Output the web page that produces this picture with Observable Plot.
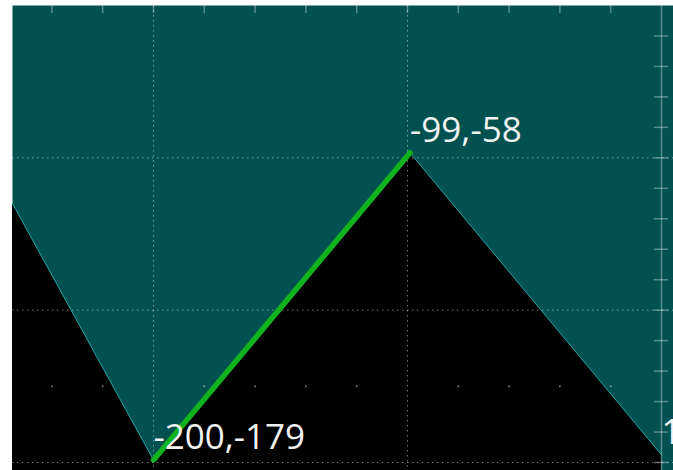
<!DOCTYPE html>
<html><head><meta charset="utf-8">
<script src="https://cdn.jsdelivr.net/npm/d3@7"></script>
<script src="https://cdn.jsdelivr.net/npm/@observablehq/plot@0.6"></script>
<style>body{margin:0;background:#fff}</style>
</head><body><div id="chart"></div>
<script>
// Zigzag pivots (bar, value)
const pivotX = [-300, -200, -99, 0];
const pivotY = [3, -179, -58, -177];
// Highlighted leg
const legX = [-200, -99];
const legY = [-179, -58];
// Pivot labels
const labelX = [-200, -99, 0];
const labelY = [-179, -58, -177];
const labelText = ["-200,-179", "-99,-58", "1,-177"];
// Grid / ticks
const gridX = [-200, -100];
const gridY = [-180, -120, -60];
const minorDotX = [-240, -220, -180, -160, -140, -120, -80, -60, -40, -20];
const minorDotY = [-150];
const topTickX = [-240, -220, -200, -180, -160, -140, -120, -100, -80, -60, -40, -20];
const rightTickY = [-180, -168, -156, -144, -132, -120, -108, -96, -84, -72, -60, -48, -36, -24, -12];

const pivots = pivotX.map((x, i) => ({x, y: pivotY[i]}));
const leg = legX.map((x, i) => ({x, y: legY[i]}));
const labels = labelX.map((x, i) => ({x, y: labelY[i], t: labelText[i]}));
const dots = minorDotY.flatMap(y => minorDotX.map(x => ({x, y})));

const gridStroke = "rgba(255,255,255,0.45)";
const axisStroke = "rgba(255,255,255,0.34)";

const chart = Plot.plot({
  width: 673, height: 470,
  marginLeft: 12, marginTop: 5, marginRight: 0, marginBottom: 0,
  x: {domain: [-255.5, 4.72], axis: null},
  y: {domain: [-183.15, 0], axis: null},
  style: {background: "#fff", overflow: "hidden"},
  marks: [
    Plot.frame({fill: "#015151", stroke: null}),
    Plot.areaY(pivots, {x: "x", y1: -400, y2: "y", fill: "#000", clip: true}),
    Plot.ruleX(gridX, {stroke: gridStroke, strokeDasharray: "1.5 3.5", strokeWidth: 1}),
    Plot.ruleY(gridY, {stroke: gridStroke, strokeDasharray: "1.5 3.5", strokeWidth: 1}),
    Plot.dot(dots, {x: "x", y: "y", r: 1, fill: gridStroke, stroke: null}),
    Plot.line(pivots, {x: "x", y: "y", stroke: "#1fa3a3", strokeWidth: 1, clip: true}),
    Plot.line(leg, {x: "x", y: "y", stroke: "#10b21e", strokeWidth: 5.5, clip: true}),
    Plot.ruleX([0], {stroke: axisStroke, strokeWidth: 1.5}),
    Plot.ruleY(rightTickY, {x1: -2.8, x2: 2.8, stroke: axisStroke, strokeWidth: 1.5}),
    Plot.ruleX(topTickX, {y1: 0, y2: -3.2, stroke: axisStroke, strokeWidth: 1.5}),
    Plot.text(labels, {x: "x", y: "y", text: "t", textAnchor: "start", lineAnchor: "middle",
      dx: 0, dy: -22, fill: "#f2f2f2", fontSize: 35, fontFamily: "Open Sans"})
  ]
});
document.getElementById("chart").appendChild(chart);
</script>
</body></html>
